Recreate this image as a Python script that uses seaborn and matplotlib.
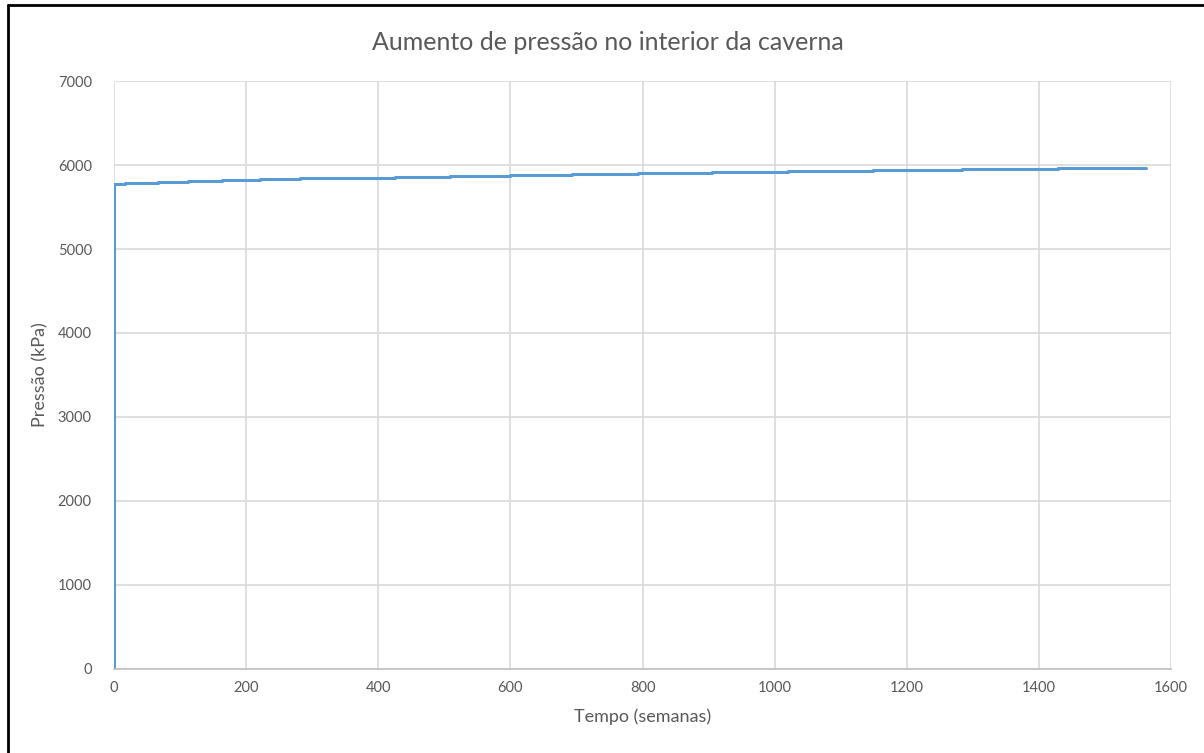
import matplotlib
matplotlib.use("Agg")
import matplotlib.pyplot as plt
import seaborn as sns
import pandas as pd
from matplotlib.lines import Line2D

# time (weeks) at which each pressure level starts
step_times = [0, 0, 17, 67, 112, 164, 221, 282, 353, 425, 509, 600, 693, 793,
              905, 1020, 1149, 1284, 1429, 1562]
# pressure (kPa) from that time on
pressure = [0, 5774, 5785, 5796, 5807, 5818, 5829, 5840, 5851, 5862, 5873,
            5884, 5895, 5906, 5917, 5928, 5939, 5950, 5961, 5961]

x_ticks = [0, 200, 400, 600, 800, 1000, 1200, 1400, 1600]
y_ticks = [0, 1000, 2000, 3000, 4000, 5000, 6000, 7000]

title = "Aumento de pressão no interior da caverna"
xlabel = "Tempo (semanas)"
ylabel = "Pressão (kPa)"

df = pd.DataFrame({"t": step_times, "p": pressure})

sns.set_theme(style="white")
plt.rcParams["font.family"] = ["Lato", "DejaVu Sans"]

text_col = "#595959"
grid_col = "#d9d9d9"

fig = plt.figure(figsize=(12.04, 7.53), dpi=100)
ax = fig.add_axes([0.0947, 0.1116, 0.8779, 0.7808])

sns.lineplot(data=df, x="t", y="p", ax=ax, sort=False, estimator=None,
             drawstyle="steps-post", color="#5b9bd5", linewidth=2.2)

ax.set_xlim(0, 1600)
ax.set_ylim(0, 7000)
ax.set_xticks(x_ticks)
ax.set_yticks(y_ticks)
ax.grid(True, color=grid_col, linewidth=1.2)
ax.set_axisbelow(True)
for side in ["top", "right", "left"]:
    ax.spines[side].set_visible(False)
ax.spines["bottom"].set_color("#bfbfbf")
ax.spines["bottom"].set_linewidth(1.2)
ax.tick_params(axis="both", length=0, labelsize=10.5, labelcolor=text_col)
ax.tick_params(axis="y", pad=16)
ax.tick_params(axis="x", pad=9)

ax.set_xlabel(xlabel, fontsize=13, color=text_col, labelpad=9)
ax.set_ylabel(ylabel, fontsize=13, color=text_col, labelpad=7)
fig.text(0.505, 0.943, title, ha="center", va="center",
         fontsize=18, color=text_col)

# frame of the original screenshot (left and top edges)
fig.add_artist(Line2D([0.0066, 0.0066], [0, 0.993], transform=fig.transFigure,
                      color="black", linewidth=2))
fig.add_artist(Line2D([0.0066, 1], [0.993, 0.993], transform=fig.transFigure,
                      color="black", linewidth=2))

fig.savefig("out.png", dpi=100)
